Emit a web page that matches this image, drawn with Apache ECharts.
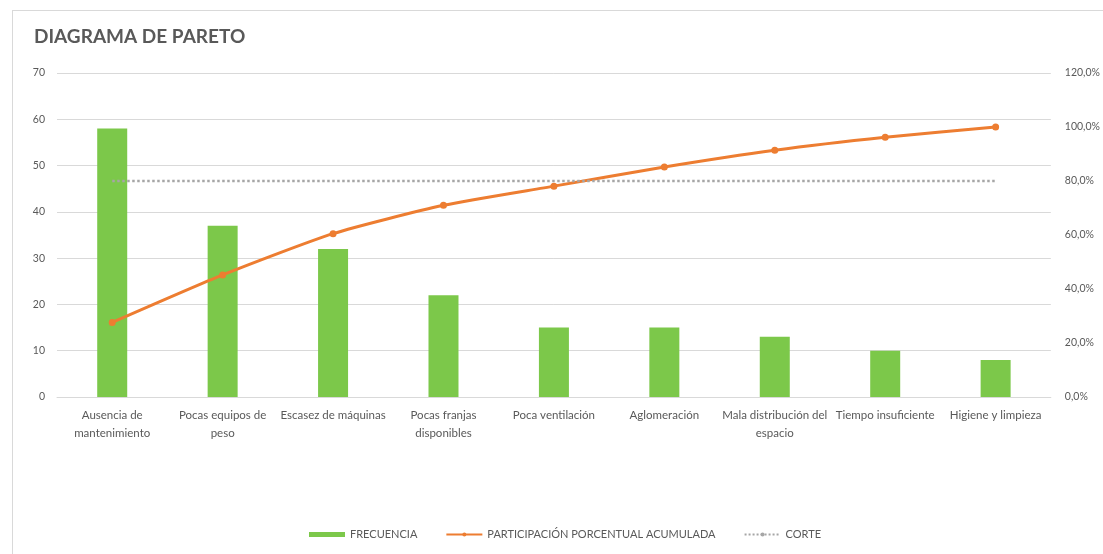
<!DOCTYPE html>
<html>
<head>
<meta charset="utf-8">
<script src="https://cdn.jsdelivr.net/npm/echarts@6/dist/echarts.min.js"></script>
<style>
html,body{margin:0;padding:0;background:#fff;}
#frame{position:absolute;left:12px;top:10px;width:1100px;height:560px;border:1px solid #d9d9d9;box-sizing:border-box;}
#chart{position:absolute;left:0;top:0;width:1103px;height:554px;}
</style>
</head>
<body>
<div id="frame"></div>
<div id="chart"></div>
<script>
const categories = ["Ausencia de\nmantenimiento","Pocas equipos de\npeso","Escasez de máquinas","Pocas franjas\ndisponibles","Poca ventilación","Aglomeración","Mala distribución del\nespacio","Tiempo insuficiente","Higiene y limpieza"];
const frecuencia = [58, 37, 32, 22, 15, 15, 13, 10, 8];
const acumulado = [0.276, 0.452, 0.605, 0.710, 0.781, 0.852, 0.914, 0.962, 1.0];
const corte = [0.8, 0.8, 0.8, 0.8, 0.8, 0.8, 0.8, 0.8, 0.8];
const leftTicks = {min: 0, max: 70, interval: 10};
const rightTicks = {min: 0, max: 1.2, interval: 0.2};

const chart = echarts.init(document.getElementById('chart'), null, {renderer: 'canvas'});
const font = 'Lato, "Open Sans", sans-serif';
const txt = '#595959';
chart.setOption({
  animation: false,
  textStyle: {fontFamily: font},
  title: {text: 'DIAGRAMA DE PARETO', left: 29, top: 22,
    textStyle: {fontFamily: font, fontSize: 19, fontWeight: 'bold', color: '#595959'}},
  grid: {left: 57, right: 52, top: 73, bottom: 157},
  legend: {bottom: 9, left: 304, itemGap: 28, itemWidth: 36, itemHeight: 5,
    textStyle: {fontFamily: font, fontSize: 11, color: txt},
    data: [{name: 'FRECUENCIA', icon: 'rect'}, {name: 'PARTICIPACIÓN PORCENTUAL ACUMULADA'}, {name: 'CORTE'}]},
  xAxis: {type: 'category', data: categories,
    axisLine: {lineStyle: {color: '#d9d9d9'}}, axisTick: {show: false},
    axisLabel: {interval: 0, color: txt, fontSize: 11.5, margin: 9, lineHeight: 18, fontFamily: font}},
  yAxis: [
    {type: 'value', min: leftTicks.min, max: leftTicks.max, interval: leftTicks.interval,
      axisLine: {show: false}, axisTick: {show: false},
      splitLine: {lineStyle: {color: '#d9d9d9'}},
      axisLabel: {color: txt, fontSize: 10.5, margin: 12, fontFamily: font}},
    {type: 'value', min: rightTicks.min, max: rightTicks.max, interval: rightTicks.interval,
      axisLine: {show: false}, axisTick: {show: false}, splitLine: {show: false},
      axisLabel: {color: txt, fontSize: 10.5, margin: 14, fontFamily: font,
        formatter: v => (v * 100).toFixed(1).replace('.', ',') + '%'}}
  ],
  series: [
    {name: 'FRECUENCIA', type: 'bar', data: frecuencia, barWidth: 30,
      itemStyle: {color: '#7cc84a'}},
    {name: 'PARTICIPACIÓN PORCENTUAL ACUMULADA', type: 'line', yAxisIndex: 1, data: acumulado,
      symbol: 'circle', symbolSize: 7, smooth: 0.2,
      lineStyle: {color: '#ed7d31', width: 3}, itemStyle: {color: '#ed7d31'}},
    {name: 'CORTE', type: 'line', yAxisIndex: 1, data: corte, symbol: 'none',
      lineStyle: {color: '#a6a6a6', width: 2.5, type: 'dotted'}, itemStyle: {color: '#a6a6a6'}}
  ]
});
</script>
</body>
</html>
